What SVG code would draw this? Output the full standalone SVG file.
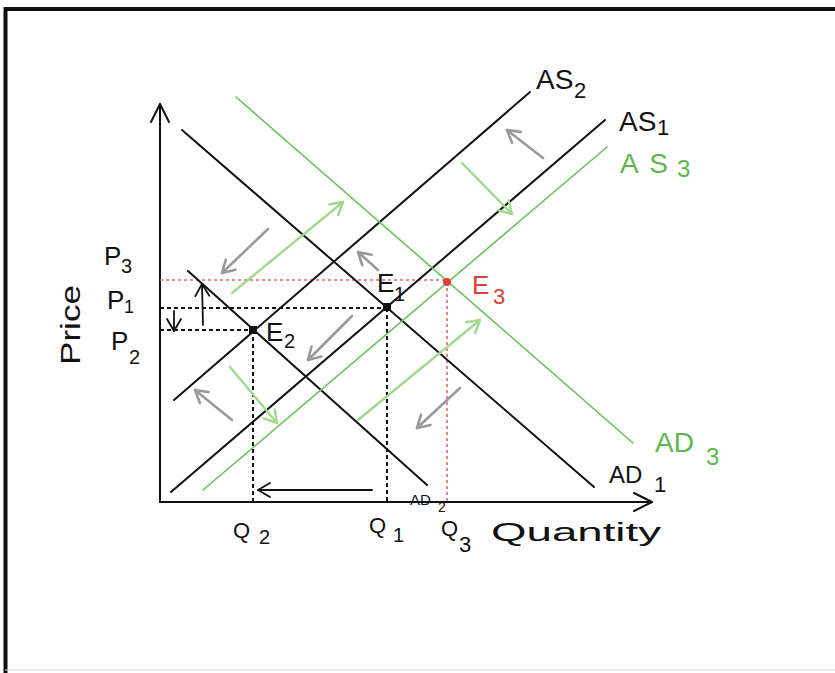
<svg xmlns="http://www.w3.org/2000/svg" width="835" height="673" viewBox="0 0 835 673">
<style>
.bk{stroke:#111;stroke-width:2;fill:none;stroke-linecap:round}
.gr{stroke:#6cc05c;stroke-width:1.6;fill:none;stroke-linecap:round}
.ga{stroke:#a2d98f;stroke-width:2.4;fill:none;stroke-linecap:round}
.gy{stroke:#9a9a9a;stroke-width:2.6;fill:none;stroke-linecap:round}
.ba{stroke:#111;stroke-width:1.8;fill:none;stroke-linecap:round}
.dk{stroke:#111;stroke-width:2;stroke-dasharray:4 3;fill:none}
.dr{stroke:#e06a6a;stroke-width:1.6;stroke-dasharray:3 3;fill:none}
text{font-family:"Liberation Sans","DejaVu Sans",sans-serif;fill:#111}
.g{fill:#5cb84c}
.r{fill:#e0403a}
</style>
<defs>
<marker id="mg" markerUnits="userSpaceOnUse" markerWidth="18" markerHeight="18" refX="15" refY="9" orient="auto"><path d="M3,2 L15,9 L3,16" fill="none" stroke="#9a9a9a" stroke-width="2.6" stroke-linecap="round" stroke-linejoin="round"/></marker>
<marker id="mgr" markerUnits="userSpaceOnUse" markerWidth="18" markerHeight="18" refX="15" refY="9" orient="auto"><path d="M3,2 L15,9 L3,16" fill="none" stroke="#a2d98f" stroke-width="2.4" stroke-linecap="round" stroke-linejoin="round"/></marker>
<marker id="mb" markerUnits="userSpaceOnUse" markerWidth="18" markerHeight="18" refX="15" refY="9" orient="auto"><path d="M3,2 L15,9 L3,16" fill="none" stroke="#111" stroke-width="1.8" stroke-linecap="round" stroke-linejoin="round"/></marker>
<marker id="ma" markerUnits="userSpaceOnUse" markerWidth="24" markerHeight="24" refX="20" refY="12" orient="auto"><path d="M2,3 L20,12 L2,21" fill="none" stroke="#111" stroke-width="2" stroke-linecap="round" stroke-linejoin="round"/></marker>
</defs>
<rect width="835" height="673" fill="#fff"/>
<path d="M5.5,673 L5.5,9 L835,9" fill="none" stroke="#111" stroke-width="4"/>
<line x1="5" y1="670" x2="835" y2="670" stroke="#d8d8d8" stroke-width="1"/>

<g id="axes">
<path class="bk" d="M160,502 L160,104" marker-end="url(#ma)"/>
<path class="bk" d="M160,502 L652,502" marker-end="url(#ma)"/>
</g>

<g id="guides">
<path class="dr" d="M160,280 L447,280 M447,282 L447,502"/>
<path class="dk" d="M160,308 L387,308 M387,308 L387,502"/>
<path class="dk" d="M160,330 L253,330 M253,330 L253,502"/>
</g>

<g id="curves">
<path id="AD1" class="bk" d="M182,130 L594,487"/>
<path id="AD2" class="bk" d="M188,271 L427,485"/>
<path id="AS1" class="bk" d="M171,492 L605,120"/>
<path id="AS2" class="bk" d="M174,400 L530,92"/>
<path id="AD3" class="gr" d="M236,97 L633,443"/>
<path id="AS3" class="gr" d="M203,490 L607,147"/>
</g>

<g id="connectors">
<path class="gy" d="M268,229 L222,273" marker-end="url(#mg)"/>
<path class="gy" d="M378,270 L358,252" marker-end="url(#mg)"/>
<path class="gy" d="M352,316 L308,360" marker-end="url(#mg)"/>
<path class="gy" d="M232,420 L195,390" marker-end="url(#mg)"/>
<path class="gy" d="M460,388 L417,428" marker-end="url(#mg)"/>
<path class="gy" d="M543,158 L507,130" marker-end="url(#mg)"/>
<path class="ga" d="M232,293 L343,202" marker-end="url(#mgr)"/>
<path class="ga" d="M230,367 L277,423" marker-end="url(#mgr)"/>
<path class="ga" d="M358,420 L480,320" marker-end="url(#mgr)"/>
<path class="ga" d="M462,163 L512,214" marker-end="url(#mgr)"/>
<path class="ba" d="M203,325 L202,284" marker-end="url(#mb)"/>
<path class="ba" d="M174,311 L174,331" marker-end="url(#mb)"/>
<path class="ba" d="M372,490 L258,490" marker-end="url(#mb)"/>
</g>

<g id="points">
<rect x="383" y="303" width="8" height="8" fill="#111"/>
<rect x="249" y="326" width="8" height="8" fill="#111"/>
<circle cx="447" cy="282" r="4" fill="#e0403a"/>
</g>

<g id="labels">
<text x="104" y="265" font-size="26">P</text><text x="121" y="273" font-size="20">3</text>
<text x="107" y="309" font-size="26">P</text><text x="124" y="313" font-size="18">1</text>
<text x="111" y="350" font-size="26">P</text><text x="129" y="364" font-size="20">2</text>
<text transform="translate(80,365) rotate(-90)" font-size="28" textLength="80" lengthAdjust="spacingAndGlyphs">Price</text>
<text x="266" y="341" font-size="26">E</text><text x="284" y="348" font-size="20">2</text>
<text x="377" y="292" font-size="26">E</text><text x="394" y="301" font-size="20">1</text>
<text class="r" x="472" y="294" font-size="26">E</text><text class="r" x="493" y="304" font-size="22">3</text>
<text x="536" y="89" font-size="28">AS</text><text x="574" y="98" font-size="22">2</text>
<text x="619" y="131" font-size="28">AS</text><text x="657" y="135" font-size="22">1</text>
<text class="g" x="620" y="173" font-size="28" textLength="48" lengthAdjust="spacing">AS</text><text class="g" x="677" y="177" font-size="24">3</text>
<text class="g" x="655" y="452" font-size="28">AD</text><text class="g" x="706" y="465" font-size="24">3</text>
<text x="609" y="483" font-size="24">AD</text><text x="654" y="492" font-size="22">1</text>
<text x="410" y="505" font-size="15">AD</text><text x="438" y="512" font-size="14">2</text>
<text x="233" y="538" font-size="22">Q</text><text x="259" y="544" font-size="20">2</text>
<text x="369" y="533" font-size="22">Q</text><text x="393" y="542" font-size="20">1</text>
<text x="441" y="536" font-size="22">Q</text><text x="459" y="552" font-size="22">3</text>
<text x="491" y="541" font-size="26" textLength="170" lengthAdjust="spacingAndGlyphs">Quantity</text>
</g>
</svg>
